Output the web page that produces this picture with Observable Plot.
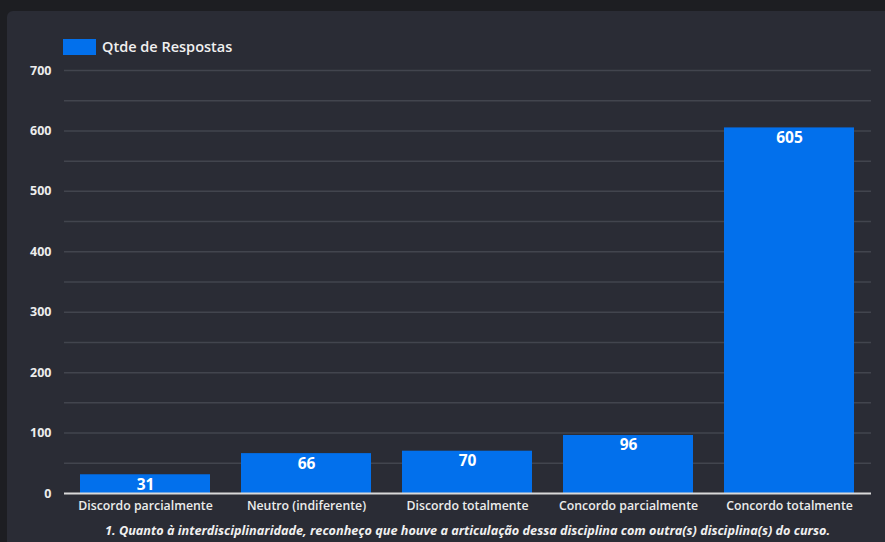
<!DOCTYPE html>
<html><head><meta charset="utf-8">
<script src="https://cdn.jsdelivr.net/npm/d3@7"></script>
<script src="https://cdn.jsdelivr.net/npm/@observablehq/plot@0.6"></script>
<style>
html,body{margin:0;padding:0;background:#1d1e22;width:885px;height:542px;overflow:hidden;font-family:"Open Sans",sans-serif;}
#panel{position:absolute;left:7px;top:11px;width:900px;height:560px;background:#2a2c35;border-radius:6px;}
#chart{position:absolute;left:0;top:0;}
#legend{position:absolute;left:63px;top:37px;display:flex;align-items:center;color:#f0f0f0;font-size:14.5px;font-weight:600;}
#legend .sw{width:33px;height:16px;background:#0270ec;margin-right:6px;}
#caption{position:absolute;left:-36px;width:1007px;top:521px;text-align:center;color:#f0f0f0;font-size:12.7px;font-weight:700;font-style:italic;white-space:nowrap;}
</style></head>
<body>
<div id="panel"></div>
<div id="chart"></div>
<div id="legend"><div class="sw"></div><span id="legendLabel"></span></div>
<div id="caption"></div>
<script>
const categories = ["Discordo parcialmente","Neutro (indiferente)","Discordo totalmente","Concordo parcialmente","Concordo totalmente"];
const values = [31, 66, 70, 96, 605];
const yTicks = [0,100,200,300,400,500,600,700];
const gridTicks = [50,100,150,200,250,300,350,400,450,500,550,600,650,700];
const seriesName = "Qtde de Respostas";
const captionText = "1. Quanto à interdisciplinaridade, reconheço que houve a articulação dessa disciplina com outra(s) disciplina(s) do curso.";

const data = categories.map((c,i)=>({cat:c, value:values[i]}));
const blue = "#0270ec";

document.getElementById("legendLabel").textContent = seriesName;
document.getElementById("caption").textContent = captionText;

const chart = Plot.plot({
  width: 885,
  height: 518,
  marginLeft: 64,
  marginRight: 14,
  marginTop: 70,
  marginBottom: 25,
  style: {background: "transparent", color: "#ececec", fontFamily: "Open Sans, sans-serif", fontSize: "12px", fontWeight: 600, overflow: "visible"},
  x: {domain: categories, paddingInner: 0.19, paddingOuter: 0.095, label: null},
  y: {domain: [0,700], label: null},
  marks: [
    Plot.gridY(gridTicks, {stroke: "#42454e", strokeOpacity: 1, strokeWidth: 1.5}),
    Plot.barY(data, {x: "cat", y: "value", fill: blue}),
    Plot.ruleY([0], {stroke: "#d9d9d9", strokeWidth: 2}),
    Plot.text(data, {x: "cat", y: "value", text: d => String(d.value), dy: 10, fill: "#ffffff", fontSize: 15.5, fontWeight: 700}),
    Plot.axisY({ticks: yTicks, tickSize: 0, tickPadding: 13, fontSize: 12.5, fontWeight: 700, fill: "#ececec"}),
    Plot.axisX({tickSize: 0, tickPadding: 8, fontSize: 12.3, fontWeight: 600, fill: "#ececec"})
  ]
});
document.getElementById("chart").appendChild(chart);
</script>
</body></html>
